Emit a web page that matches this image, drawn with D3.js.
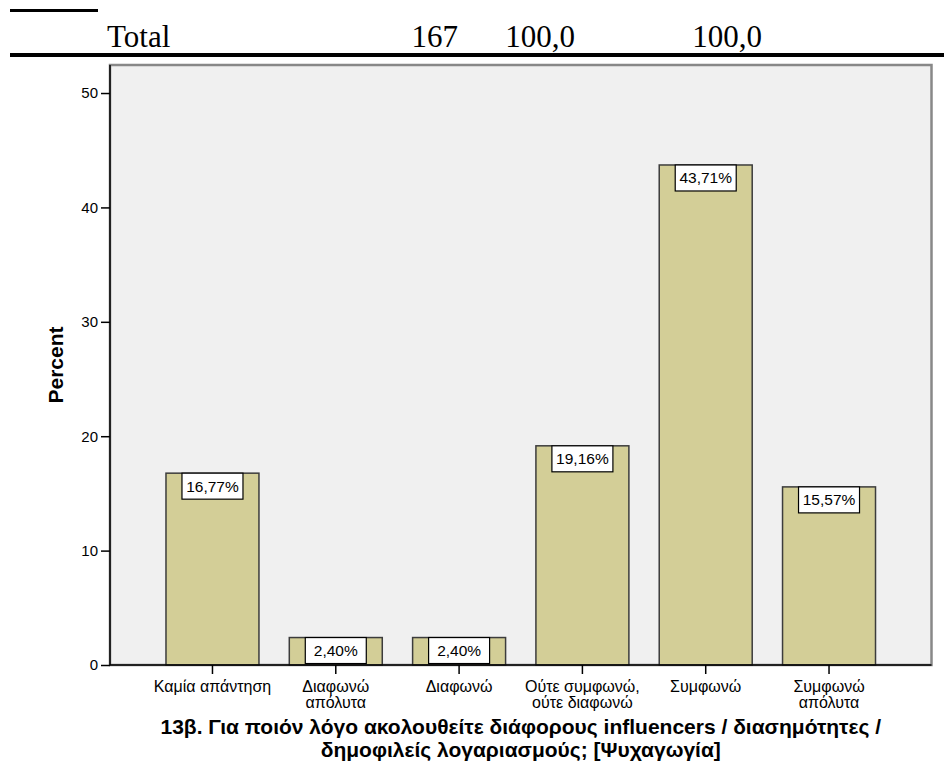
<!DOCTYPE html>
<html>
<head>
<meta charset="utf-8">
<script src="https://cdn.jsdelivr.net/npm/d3@7"></script>
<style>
  html, body { margin: 0; padding: 0; background: #ffffff; }
  svg { display: block; }
</style>
</head>
<body>
<svg id="chart" width="944" height="769"></svg>
<script>
// Response categories (line breaks mark where the axis label wraps)
const categories = [
  "Καμία απάντηση",
  "Διαφωνώ\nαπόλυτα",
  "Διαφωνώ",
  "Ούτε συμφωνώ,\nούτε διαφωνώ",
  "Συμφωνώ",
  "Συμφωνώ\nαπόλυτα"
];
// Percent of respondents per category
const percents = [16.77, 2.40, 2.40, 19.16, 43.71, 15.57];
const yTicks = [0, 10, 20, 30, 40, 50];
const yMax = 52.45;

// Last row of the frequency table above the chart
const totalRow = ["Total", "167", "100,0", "100,0"];

const xTitleLines = [
  "13β. Για ποιόν λόγο ακολουθείτε διάφορους influencers / διασημότητες /",
  "δημοφιλείς λογαριασμούς; [Ψυχαγωγία]"
];
const yTitle = "Percent";

const sans = "'Liberation Sans', Arial, Helvetica, sans-serif";
const serif = "'Liberation Serif', 'Times New Roman', serif";

const svg = d3.select("#chart");

// ---- table remnant ----
svg.append("line")
  .attr("x1", 10).attr("x2", 98).attr("y1", 10.5).attr("y2", 10.5)
  .attr("stroke", "#000").attr("stroke-width", 3);
svg.append("line")
  .attr("x1", 10).attr("x2", 944).attr("y1", 55).attr("y2", 55)
  .attr("stroke", "#000").attr("stroke-width", 4);

const rowX = [107, 458, 575, 762];
const rowAnchor = ["start", "end", "end", "end"];
svg.append("g").selectAll("text")
  .data(totalRow)
  .join("text")
  .attr("x", (d, i) => rowX[i])
  .attr("y", 47)
  .attr("text-anchor", (d, i) => rowAnchor[i])
  .attr("font-family", serif)
  .attr("font-size", 31)
  .attr("fill", "#000")
  .text(d => d);

// ---- plot area ----
const plotL = 110, plotR = 931.5, plotT = 65, plotB = 665;

const x = d3.scaleBand()
  .domain(categories)
  .range([plotL, plotR])
  .paddingInner(0.246)
  .paddingOuter(0.454);

const y = d3.scaleLinear()
  .domain([0, yMax])
  .range([plotB, plotT]);

svg.append("rect")
  .attr("x", plotL).attr("y", plotT)
  .attr("width", plotR - plotL).attr("height", plotB - plotT)
  .attr("fill", "#f0f0f0")
  .attr("stroke", "#888888")
  .attr("stroke-width", 2.5);

// bars
svg.append("g").selectAll("rect")
  .data(percents)
  .join("rect")
  .attr("x", (d, i) => x(categories[i]))
  .attr("y", d => y(d))
  .attr("width", x.bandwidth())
  .attr("height", d => y(0) - y(d))
  .attr("fill", "#d3ce97")
  .attr("stroke", "#3c3c3c")
  .attr("stroke-width", 1.5);

// value labels
const locale = d3.formatLocale({ decimal: ",", thousands: ".", grouping: [3], currency: ["", "€"] });
const fmt = locale.format(".2f");
const boxW = 61, boxH = 26;
const labels = svg.append("g").selectAll("g")
  .data(percents)
  .join("g")
  .attr("transform", (d, i) => `translate(${x(categories[i]) + x.bandwidth() / 2},${y(d)})`);
labels.append("rect")
  .attr("x", -boxW / 2).attr("y", 0)
  .attr("width", boxW).attr("height", boxH)
  .attr("fill", "#ffffff")
  .attr("stroke", "#000")
  .attr("stroke-width", 1.2);
labels.append("text")
  .attr("x", 0).attr("y", 18.5)
  .attr("text-anchor", "middle")
  .attr("font-family", sans)
  .attr("font-size", 15.5)
  .attr("fill", "#000")
  .text(d => fmt(d) + "%");

// y axis
const yAxis = svg.append("g")
  .attr("transform", `translate(${plotL},0)`)
  .call(d3.axisLeft(y).tickValues(yTicks).tickSize(9).tickPadding(3).tickFormat(d3.format("d")));
yAxis.select(".domain").attr("stroke", "#000").attr("stroke-width", 1.5)
  .attr("d", `M0,${plotT}V${plotB}`);
yAxis.selectAll(".tick line").attr("stroke", "#000").attr("stroke-width", 1.5);
yAxis.selectAll(".tick text")
  .attr("font-family", sans).attr("font-size", 15).attr("fill", "#000");

// x axis
const xAxis = svg.append("g")
  .attr("transform", `translate(0,${plotB})`)
  .call(d3.axisBottom(x).tickSize(9).tickSizeOuter(0).tickFormat(""));
xAxis.select(".domain").attr("stroke", "#000").attr("stroke-width", 1.5)
  .attr("d", `M${plotL},0H${plotR}`);
xAxis.selectAll(".tick line").attr("stroke", "#000").attr("stroke-width", 1.5);

const catLabels = svg.append("g").selectAll("text")
  .data(categories)
  .join("text")
  .attr("x", d => x(d) + x.bandwidth() / 2)
  .attr("y", 692)
  .attr("text-anchor", "middle")
  .attr("font-family", sans)
  .attr("font-size", 16)
  .attr("fill", "#000");
catLabels.selectAll("tspan")
  .data(d => d.split("\n"))
  .join("tspan")
  .attr("x", function () { return d3.select(this.parentNode).attr("x"); })
  .attr("dy", (d, i) => i === 0 ? 0 : 15.5)
  .text(d => d);

// axis titles
svg.append("text")
  .attr("transform", `translate(63,365) rotate(-90)`)
  .attr("text-anchor", "middle")
  .attr("font-family", sans)
  .attr("font-weight", "bold")
  .attr("font-size", 21)
  .attr("fill", "#000")
  .text(yTitle);

svg.append("g").selectAll("text")
  .data(xTitleLines)
  .join("text")
  .attr("x", (plotL + plotR) / 2)
  .attr("y", (d, i) => 734 + i * 23)
  .attr("text-anchor", "middle")
  .attr("font-family", sans)
  .attr("font-weight", "bold")
  .attr("font-size", 21)
  .attr("fill", "#000")
  .text(d => d);
</script>
</body>
</html>
